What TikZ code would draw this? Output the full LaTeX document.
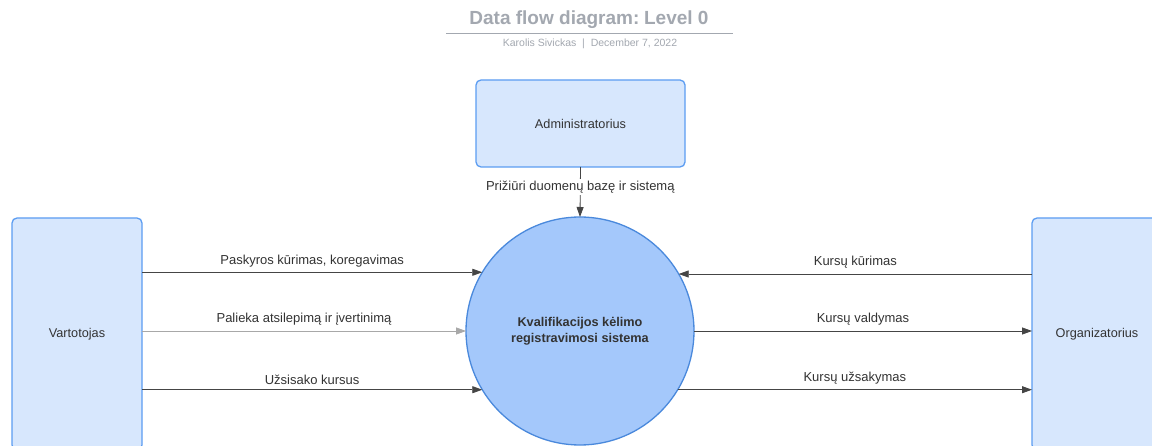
\documentclass[tikz,border=0pt]{standalone}
\usepackage{fontspec}
\setmainfont{Liberation Sans}
\usetikzlibrary{arrows.meta}
\definecolor{boxfill}{HTML}{D7E7FD}
\definecolor{boxline}{HTML}{5C9DF2}
\definecolor{circfill}{HTML}{A4C8FB}
\definecolor{circline}{HTML}{4A89DC}
\definecolor{titlegray}{HTML}{A3A8B0}
\definecolor{txt}{HTML}{333333}
\definecolor{flowline}{HTML}{454545}
\definecolor{lightflow}{HTML}{A8A8A8}
\tikzset{
  entity/.style={draw=boxline, fill=boxfill, line width=1.3pt, rounded corners=5pt,
    inner sep=0pt, outer sep=0pt, text=txt, font=\fontsize{12.7}{15}\selectfont},
  process/.style={circle, draw=circline, fill=circfill, line width=1.3pt,
    minimum size=228pt, inner sep=0pt, outer sep=0pt, text=txt, align=center,
    font=\bfseries\fontsize{12.7}{16.5}\selectfont},
  flow/.style={draw=flowline, line width=0.8pt, -{Triangle[length=10pt,width=7pt]}},
  lightflowstyle/.style={flow, draw=lightflow},
  flowlabel/.style={midway, above, inner sep=1pt, yshift=4pt, text=txt,
    font=\fontsize{13}{15}\selectfont},
}
\begin{document}
\begin{tikzpicture}[x=1pt,y=1pt]
\useasboundingbox (0,0) rectangle (1152,-446);
\clip (0,0) rectangle (1152,-446);
\fill[white] (0,0) rectangle (1152,-446);
% title
\node[text=titlegray, font=\bfseries\fontsize{19}{22}\selectfont] (title) at (589,-20) {Data flow diagram:\hspace{0.25em}Level 0};
\draw[titlegray, line width=1.6pt] (446,-33.5) -- (733,-33.5);
\node[text=titlegray, font=\fontsize{10.5}{12}\selectfont] (sub) at (590,-44) {Karolis Sivickas\ \ |\ \ December 7, 2022};
% entities
\node[entity, minimum width=209pt, minimum height=87pt] (admin) at (580.5,-123.5) {Administratorius};
\node[entity, minimum width=130pt, minimum height=232pt] (vart) at (77,-334) {Vartotojas};
\node[entity, minimum width=130pt, minimum height=232pt] (org) at (1097,-334) {Organizatorius};
% process
\node[process] (sys) at (580,-331) {Kvalifikacijos kėlimo\\registravimosi sistema};
% flows
\draw[flow] (admin.south) -- node[pos=0.4, fill=white, inner sep=2pt, text=txt, font=\fontsize{13}{15}\selectfont] (lblA) {Prižiūri duomenų bazę ir sistemą} (sys.north);
\draw[flow] (vart.east |- sys.149.4) -- node[flowlabel] (l1) {Paskyros kūrimas, koregavimas} (sys.149.4);
\draw[lightflowstyle] (vart.east |- sys.180.5) -- node[flowlabel] (l2) {Palieka atsilepimą ir įvertinimą} (sys.180.5);
\draw[flow] (vart.east |- sys.211.2) -- node[flowlabel] (l3) {Užsisako kursus} (sys.211.2);
\draw[flow] (org.west |- sys.30.9) -- node[flowlabel] (r1) {Kursų kūrimas} (sys.30.9);
\draw[flow] (sys.-0.5) -- node[flowlabel] (r2) {Kursų valdymas} (org.west |- sys.-0.5);
\draw[flow] (sys.329.4) -- node[flowlabel] (r3) {Kursų užsakymas} (org.west |- sys.329.4);
\end{tikzpicture}
\end{document}
